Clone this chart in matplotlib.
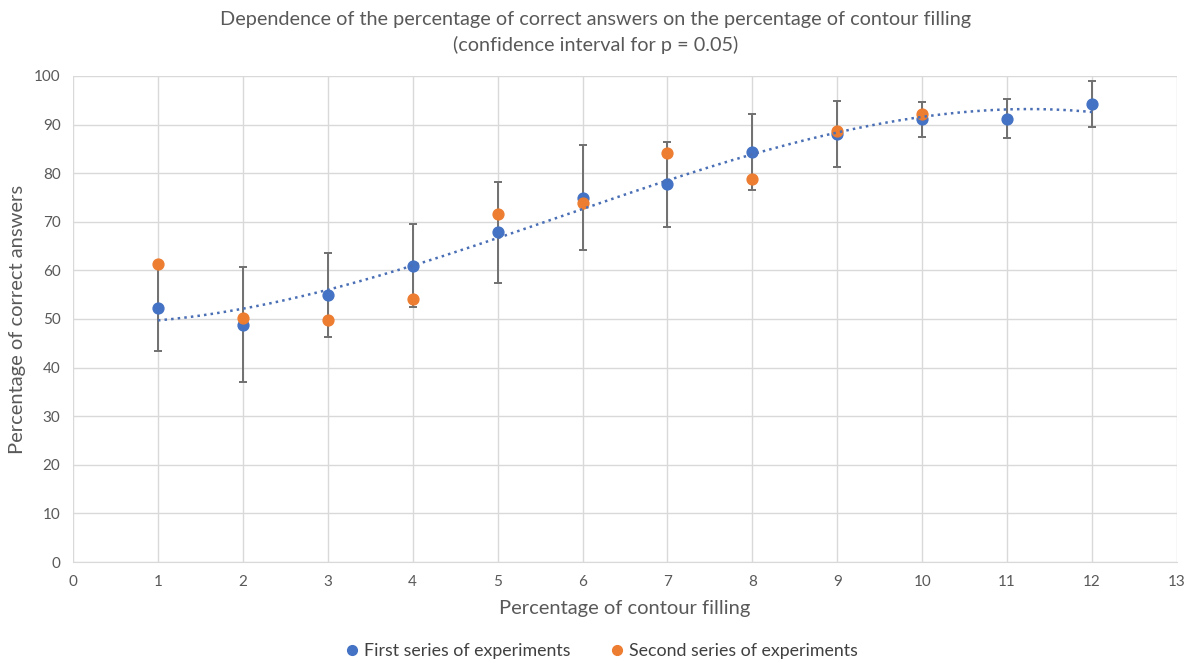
import numpy as np
import matplotlib
matplotlib.use("Agg")
import matplotlib.pyplot as plt

plt.rcParams['font.family'] = ['Lato', 'DejaVu Sans']

# percentage of contour filling
x = [1, 2, 3, 4, 5, 6, 7, 8, 9, 10, 11, 12]
# first series: mean share of correct answers and half-width of the confidence interval
first = [52.2, 48.8, 54.9, 61.0, 67.8, 75.0, 77.7, 84.3, 88.0, 91.1, 91.2, 94.2]
first_ci = [8.7, 11.8, 8.7, 8.6, 10.3, 10.7, 8.8, 7.8, 6.8, 3.6, 4.0, 4.7]
# second series (no values at 11 and 12)
x2 = [1, 2, 3, 4, 5, 6, 7, 8, 9, 10]
second = [61.3, 50.3, 49.8, 54.1, 71.7, 73.8, 84.2, 78.8, 88.6, 92.1]

blue = '#4472C4'
orange = '#ED7D31'
text_col = '#595959'

fig = plt.figure(figsize=(11.92, 6.63), dpi=100)
ax = fig.add_axes([73 / 1192, 1 - 562 / 663, (1177 - 73) / 1192, (562 - 76) / 663])

ax.errorbar(x, first, yerr=first_ci, fmt='none', ecolor='#707070', elinewidth=1.4,
            capsize=3, capthick=1.4, zorder=2)
ax.plot(x, first, 'o', color=blue, ms=7.8, zorder=3, label='First series of experiments')
ax.plot(x2, second, 'o', color=orange, ms=7.8, zorder=4, label='Second series of experiments')

# polynomial trendline for the first series
coef = np.polyfit(x, first, 3)
xs = np.linspace(1, 12, 200)
ax.plot(xs, np.polyval(coef, xs), ':', color='#4a6fb5', lw=1.8, zorder=5)

ax.set_xlim(0, 13)
ax.set_ylim(0, 100)
ax.set_xticks(range(0, 14))
ax.set_yticks(range(0, 101, 10))
ax.grid(True, color='#d9d9d9', lw=1)
ax.set_axisbelow(True)
for s in ['top', 'right', 'left']:
    ax.spines[s].set_visible(False)
ax.spines['bottom'].set_color('#d9d9d9')
ax.tick_params(length=0, labelsize=11, colors=text_col, pad=9)

ax.set_xlabel('Percentage of contour filling', fontsize=14.5, color=text_col, labelpad=8)
ax.set_ylabel('Percentage of correct answers', fontsize=14.5, color=text_col, labelpad=6)

fig.text(0.5, 1 - 20 / 663, 'Dependence of the percentage of correct answers on the percentage of contour filling',
         ha='center', va='center', fontsize=14.3, color=text_col)
fig.text(0.5, 1 - 45 / 663, '(confidence interval for p = 0.05)',
         ha='center', va='center', fontsize=14.3, color=text_col)

fig.legend(loc='center', bbox_to_anchor=(0.5, 1 - 651 / 663), ncol=2, frameon=False,
           fontsize=12.8, handletextpad=-0.3, columnspacing=1.6, markerscale=0.9,
           labelcolor='#404040')

fig.savefig('out.png', dpi=100)
